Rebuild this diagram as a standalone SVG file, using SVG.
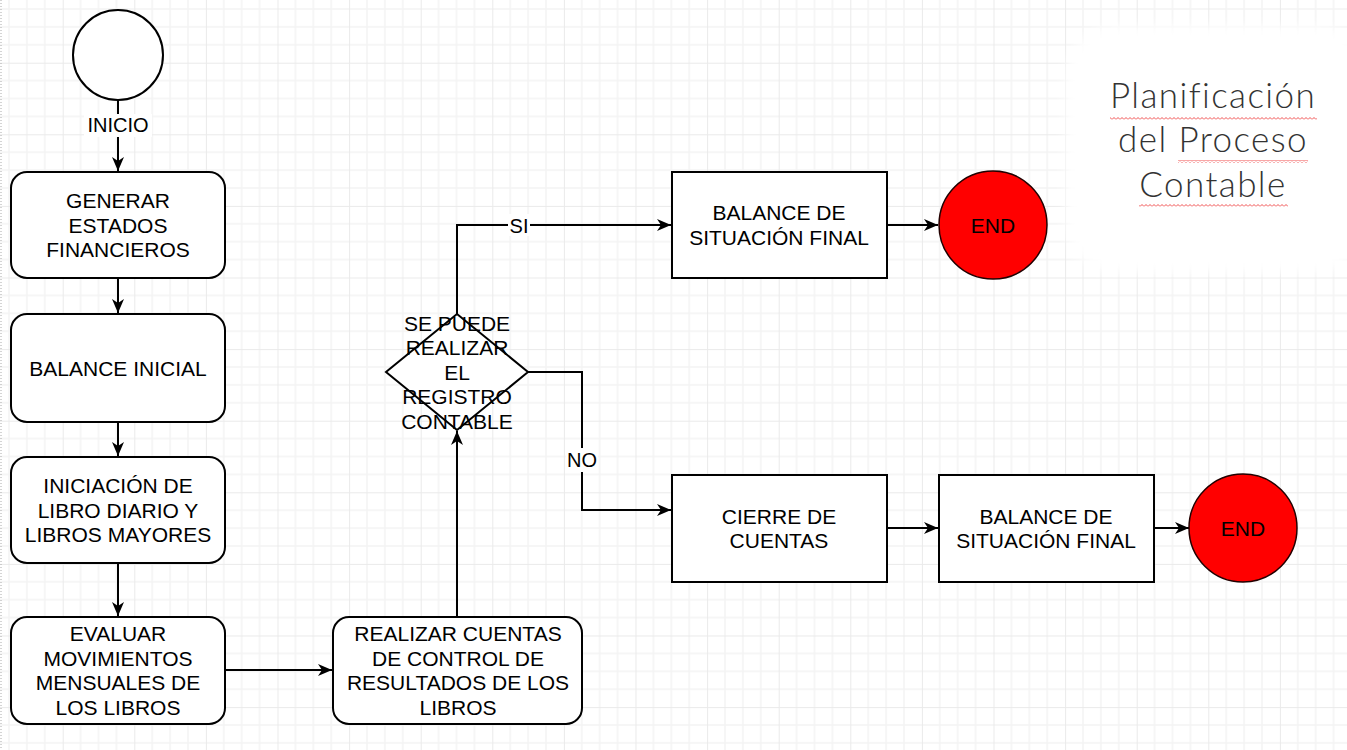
<svg xmlns="http://www.w3.org/2000/svg" width="1347" height="750" viewBox="0 0 1347 750">
<style>
.box{fill:#fff;stroke:#000;stroke-width:2}
.end{fill:#ff0000;stroke:#220000;stroke-width:1.5}
.t{font-family:"Liberation Sans",Arial,Helvetica,sans-serif;font-size:21px;fill:#000;text-anchor:middle}
.lbl{font-family:"Liberation Sans",Arial,Helvetica,sans-serif;font-size:20px;fill:#000;text-anchor:middle}
.edge{fill:none;stroke:#000;stroke-width:2}
.title{font-family:Lato,"Open Sans","Liberation Sans",sans-serif;font-weight:300;font-size:35px;letter-spacing:1.4px;fill:#333;text-anchor:middle}
</style>
<defs>
<pattern id="grid" patternUnits="userSpaceOnUse" x="-8.9" y="-8.9" width="71.6" height="71.6">
<path d="M17.9,0V71.6M35.8,0V71.6M53.7,0V71.6M0,17.9H71.6M0,35.8H71.6M0,53.7H71.6" stroke="#f4f4f4" stroke-width="1.5" fill="none"/>
<path d="M0,0V71.6M0,0H71.6" stroke="#eaeaea" stroke-width="2" fill="none"/>
</pattern>
<pattern id="squig" patternUnits="userSpaceOnUse" width="4" height="3">
<polyline points="0,2.5 2,0.5 4,2.5" fill="none" stroke="#f05050" stroke-width="1"/>
</pattern>
<filter id="soft" x="-10%" y="-10%" width="120%" height="120%"><feGaussianBlur stdDeviation="6"/></filter>
<marker id="arr" markerUnits="userSpaceOnUse" markerWidth="16" markerHeight="14" refX="14" refY="6" orient="auto">
<path d="M0,0 L14,6 L0,12 L4,6 Z" fill="#000"/>
</marker>
</defs>
<rect width="1347" height="750" fill="#fff"/>
<rect width="1347" height="750" fill="url(#grid)"/>
<line x1="1" y1="0" x2="1" y2="750" stroke="#aaa" stroke-width="1" stroke-dasharray="1 2"/>
<rect x="1066" y="26" width="300" height="246" rx="50" fill="#fff" filter="url(#soft)"/>

<g id="connectors">
<line class="edge" x1="118" y1="100" x2="118" y2="171" marker-end="url(#arr)"/>
<line class="edge" x1="118" y1="278" x2="118" y2="313" marker-end="url(#arr)"/>
<line class="edge" x1="118" y1="422" x2="118" y2="456" marker-end="url(#arr)"/>
<line class="edge" x1="118" y1="563" x2="118" y2="616" marker-end="url(#arr)"/>
<line class="edge" x1="225" y1="670" x2="332" y2="670" marker-end="url(#arr)"/>
<line class="edge" x1="457" y1="617" x2="457" y2="431" marker-end="url(#arr)"/>
<path class="edge" d="M457,314 V225 H671" marker-end="url(#arr)"/>
<path class="edge" d="M528,372 H582 V510 H671" marker-end="url(#arr)"/>
<line class="edge" x1="887" y1="225" x2="938" y2="225" marker-end="url(#arr)"/>
<line class="edge" x1="887" y1="528" x2="938" y2="528" marker-end="url(#arr)"/>
<line class="edge" x1="1154" y1="528" x2="1189" y2="528" marker-end="url(#arr)"/>
<rect x="84" y="114" width="68" height="23" fill="#fff"/>
<text class="lbl" x="118" y="132">INICIO</text>
<rect x="508" y="214" width="22" height="22" fill="#fff"/>
<text class="lbl" x="519" y="233">SI</text>
<rect x="566" y="448" width="32" height="24" fill="#fff"/>
<text class="lbl" x="582" y="467">NO</text>
</g>

<g id="start">
<circle cx="118" cy="55" r="45" fill="#fff" stroke="#000" stroke-width="2"/>
</g>
<g id="generar">
<rect class="box" x="11" y="172" width="214" height="106" rx="16"/>
<text class="t" x="118" y="208">GENERAR</text>
<text class="t" x="118" y="233">ESTADOS</text>
<text class="t" x="118" y="257">FINANCIEROS</text>
</g>
<g id="balance-inicial">
<rect class="box" x="11" y="314" width="214" height="108" rx="16"/>
<text class="t" x="118" y="375.5">BALANCE INICIAL</text>
</g>
<g id="iniciacion">
<rect class="box" x="11" y="457" width="214" height="106" rx="16"/>
<text class="t" x="118" y="493">INICIACIÓN DE</text>
<text class="t" x="118" y="518">LIBRO DIARIO Y</text>
<text class="t" x="118" y="542">LIBROS MAYORES</text>
</g>
<g id="evaluar">
<rect class="box" x="11" y="617" width="214" height="107" rx="16"/>
<text class="t" x="118" y="641">EVALUAR</text>
<text class="t" x="118" y="666">MOVIMIENTOS</text>
<text class="t" x="118" y="690">MENSUALES DE</text>
<text class="t" x="118" y="715">LOS LIBROS</text>
</g>
<g id="realizar">
<rect class="box" x="333" y="617" width="249" height="107" rx="16"/>
<text class="t" x="458" y="641">REALIZAR CUENTAS</text>
<text class="t" x="458" y="666">DE CONTROL DE</text>
<text class="t" x="458" y="690">RESULTADOS DE LOS</text>
<text class="t" x="458" y="715">LIBROS</text>
</g>
<g id="decision">
<polygon points="457,314 528,372 457,430 386,372" fill="#fff" stroke="#000" stroke-width="2"/>
<text class="t" x="457" y="331">SE PUEDE</text>
<text class="t" x="457" y="355">REALIZAR</text>
<text class="t" x="457" y="380">EL</text>
<text class="t" x="457" y="404">REGISTRO</text>
<text class="t" x="457" y="429">CONTABLE</text>
</g>
<g id="balance-final-1">
<rect class="box" x="672" y="172" width="215" height="106"/>
<text class="t" x="779" y="220">BALANCE DE</text>
<text class="t" x="779" y="245">SITUACIÓN FINAL</text>
</g>
<g id="end-1">
<circle class="end" cx="993" cy="225" r="54"/>
<text class="t" x="993" y="232.5">END</text>
</g>
<g id="cierre">
<rect class="box" x="672" y="475" width="215" height="107"/>
<text class="t" x="779" y="523.5">CIERRE DE</text>
<text class="t" x="779" y="548">CUENTAS</text>
</g>
<g id="balance-final-2">
<rect class="box" x="939" y="475" width="215" height="107"/>
<text class="t" x="1046" y="523.5">BALANCE DE</text>
<text class="t" x="1046" y="548">SITUACIÓN FINAL</text>
</g>
<g id="end-2">
<circle class="end" cx="1243" cy="528" r="54"/>
<text class="t" x="1243" y="535.5">END</text>
</g>
<g id="title">
<text class="title" x="1213" y="108">Planificación</text>
<text class="title" x="1213" y="152">del Proceso</text>
<text class="title" x="1213" y="197">Contable</text>
<rect x="1110" y="117" width="207" height="3" fill="url(#squig)"/>
<rect x="1178" y="160" width="130" height="3" fill="url(#squig)"/>
<rect x="1139" y="204" width="149" height="3" fill="url(#squig)"/>
</g>
</svg>
